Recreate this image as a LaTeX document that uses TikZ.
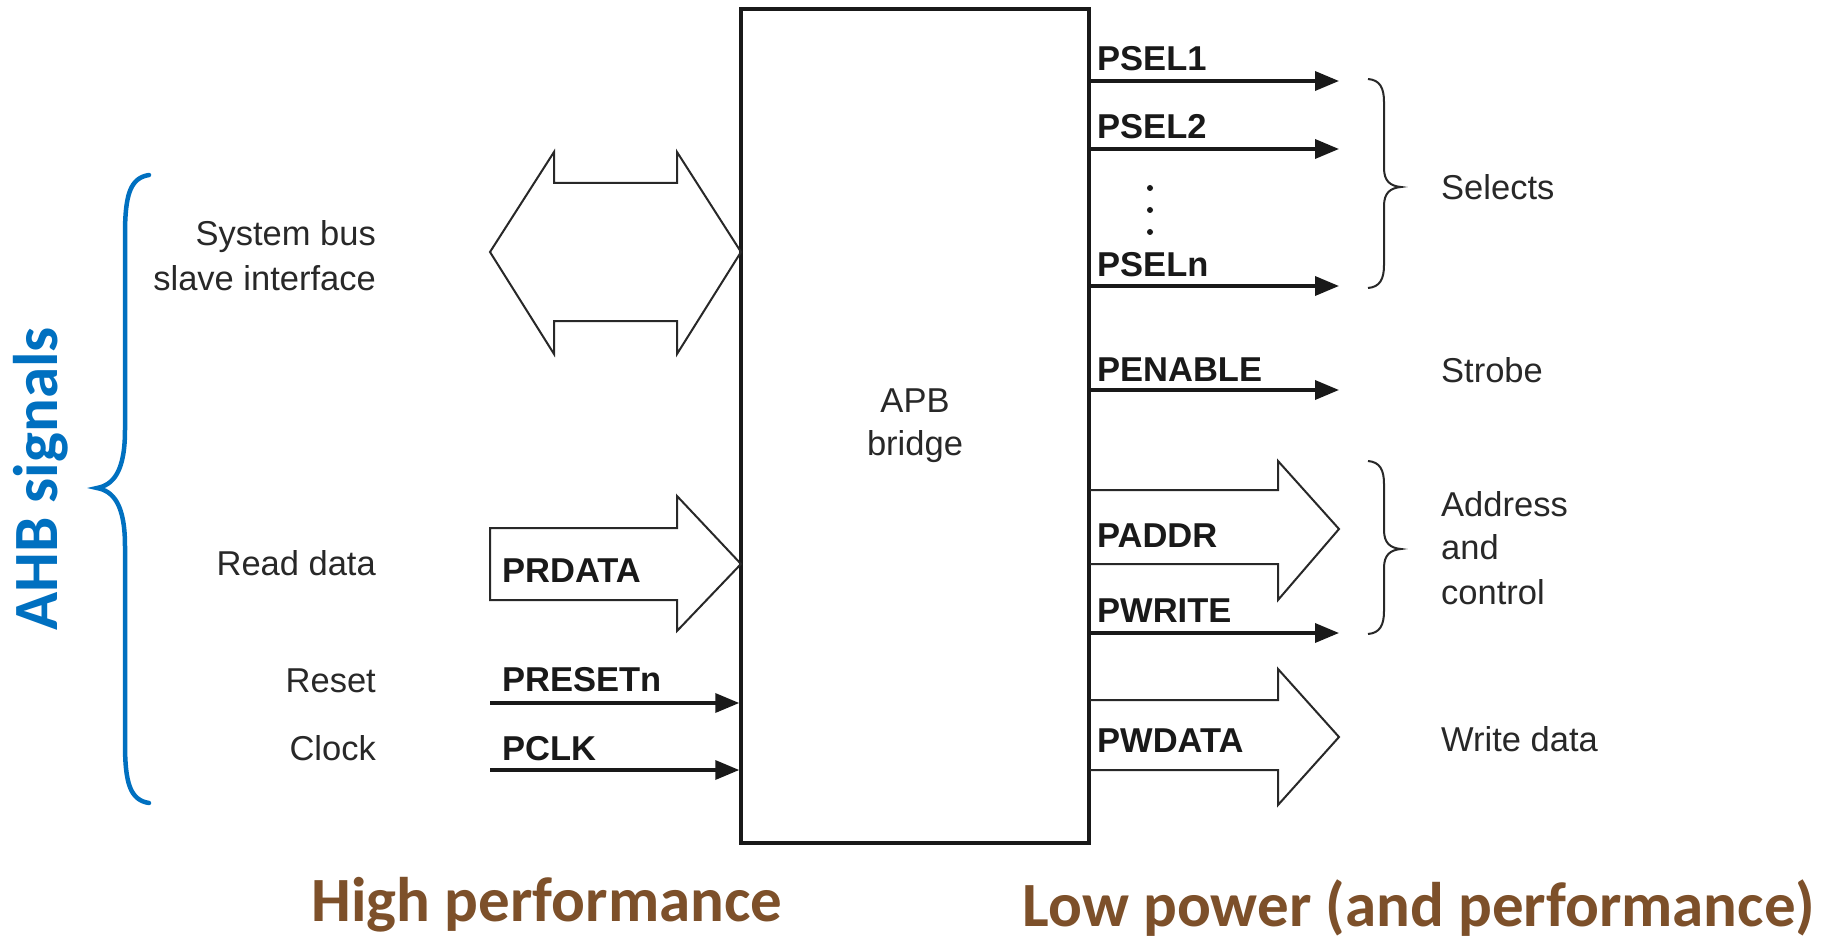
\documentclass[tikz,border=0pt]{standalone}
\usepackage{fontspec}
\setmainfont{Liberation Sans}
\newfontfamily\calib{Carlito}
\usetikzlibrary{arrows.meta}
\definecolor{ahbblue}{RGB}{0,112,192}
\definecolor{brownt}{RGB}{125,80,42}
\definecolor{ink}{RGB}{40,40,40}
\tikzset{
  lbl/.style={font=\fontsize{34.5}{43}\selectfont, text=ink, inner sep=0pt, text height=24.7pt, text depth=0pt},
  siglbl/.style={lbl, font=\fontsize{34.5}{43}\selectfont\bfseries, text=black!90},
  sig/.style={line width=3.5pt, draw=black!90, -{Triangle[length=24pt,width=19pt]}},
  fat/.style={line width=2pt, draw=ink, line join=miter},
  thinbrace/.style={line width=2pt, draw=ink},
  bigtext/.style={font=\calib\bfseries\fontsize{63}{70}\selectfont, inner sep=0pt}
}
\begin{document}
\begin{tikzpicture}[x=1pt,y=-1pt]
\useasboundingbox (0,0) rectangle (1830,941);
\fill[white] (0,0) rectangle (1830,941);

% bridge box
\node[draw=black!90, line width=3.5pt, minimum width=348pt, minimum height=834pt, inner sep=0pt,
      font=\fontsize{34.5}{43}\selectfont, text=ink, align=center] (bridge) at (915,426) {APB\\bridge};

% left: system bus double arrow
\draw[fat] (490,252) -- (554,152) -- (554,183) -- (677,183) -- (677,152) -- (741,252)
  -- (677,354) -- (677,321) -- (554,321) -- (554,354) -- cycle;
% PRDATA fat arrow
\draw[fat] (490,528) -- (677,528) -- (677,496) -- (741,564) -- (677,631) -- (677,600) -- (490,600) -- cycle;
\node[siglbl, anchor=west] (prdata) at (502,570) {PRDATA};

% PRESETn and PCLK
\coordinate (rstS) at (490,703);
\coordinate (clkS) at (490,770);
\draw[sig] (rstS) -- (bridge.west |- rstS);
\draw[sig] (clkS) -- (bridge.west |- clkS);
\node[siglbl, anchor=west] (presetn) at (502,679) {PRESETn};
\node[siglbl, anchor=west] (pclk) at (502,748) {PCLK};

% left descriptive labels
\node[lbl, anchor=east] (sb1) at (376,233) {System bus};
\node[lbl, anchor=east] (sb2) at (376,278) {slave interface};
\node[lbl, anchor=east] (rd) at (376,563) {Read data};
\node[lbl, anchor=east] (rst) at (376,680) {Reset};
\node[lbl, anchor=east] (clk) at (376,748) {Clock};

% blue AHB brace
\draw[ahbblue, line width=4.5pt, line cap=round]
  (149,175) .. controls (130,178) and (125,195) .. (125,235) -- (125,430)
  .. controls (125,472) and (113,485) .. (97,488)
  .. controls (113,491) and (125,504) .. (125,546) -- (125,743)
  .. controls (125,783) and (130,800) .. (149,803);
\node[bigtext, text=ahbblue, rotate=90] (ahb) at (41,479) {AHB signals};

% right: select signals
\coordinate (p1) at (1339,81);
\coordinate (p2) at (1339,149);
\coordinate (pn) at (1339,286);
\coordinate (pe) at (1339,390);
\coordinate (pw) at (1339,633);
\draw[sig] (bridge.east |- p1) -- (p1);
\draw[sig] (bridge.east |- p2) -- (p2);
\draw[sig] (bridge.east |- pn) -- (pn);
\draw[sig] (bridge.east |- pe) -- (pe);
\draw[sig] (bridge.east |- pw) -- (pw);
\node[siglbl, anchor=west] (psel1) at (1097,58) {PSEL1};
\node[siglbl, anchor=west] (psel2) at (1097,126) {PSEL2};
\node[siglbl, anchor=west] (pseln) at (1097,264) {PSELn};
\node[siglbl, anchor=west] (penable) at (1097,369) {PENABLE};
\node[siglbl, anchor=west] (pwrite) at (1097,610) {PWRITE};
\foreach \yy in {188,210,232} \fill[black!90] (1150,\yy) circle (3pt);

% PADDR and PWDATA fat arrows
\draw[fat] (1090,490) -- (1278,490) -- (1278,461) -- (1339,529) -- (1278,600) -- (1278,564) -- (1090,564);
\draw[fat] (1090,700) -- (1278,700) -- (1278,669) -- (1339,737) -- (1278,805) -- (1278,770) -- (1090,770);
\node[siglbl, anchor=west] (paddr) at (1097,535) {PADDR};
\node[siglbl, anchor=west] (pwdata) at (1097,740) {PWDATA};

% right braces
\draw[thinbrace]
  (1368,79) .. controls (1380,80) and (1384,88) .. (1384,102) -- (1384,168)
  .. controls (1384,181) and (1390,186) .. (1401,187)
  .. controls (1390,188) and (1384,193) .. (1384,206) -- (1384,265)
  .. controls (1384,279) and (1380,287) .. (1368,288);
\draw[thinbrace]
  (1368,461) .. controls (1380,462) and (1384,470) .. (1384,484) -- (1384,530)
  .. controls (1384,543) and (1390,548) .. (1401,549)
  .. controls (1390,550) and (1384,555) .. (1384,568) -- (1384,611)
  .. controls (1384,625) and (1380,633) .. (1368,634);

% right descriptive labels
\node[lbl, anchor=west] (sel) at (1441,187) {Selects};
\node[lbl, anchor=west] (strobe) at (1441,370) {Strobe};
\node[lbl, anchor=west] (addr1) at (1441,504) {Address};
\node[lbl, anchor=west] (addr2) at (1441,547) {and};
\node[lbl, anchor=west] (addr3) at (1441,592) {control};
\node[lbl, anchor=west] (wd) at (1441,739) {Write data};

% bottom captions
\node[bigtext, text=brownt] (hp) at (547,905) {High performance};
\node[bigtext, text=brownt] (lp) at (1419,908) {Low power (and performance)};
\end{tikzpicture}
\end{document}
